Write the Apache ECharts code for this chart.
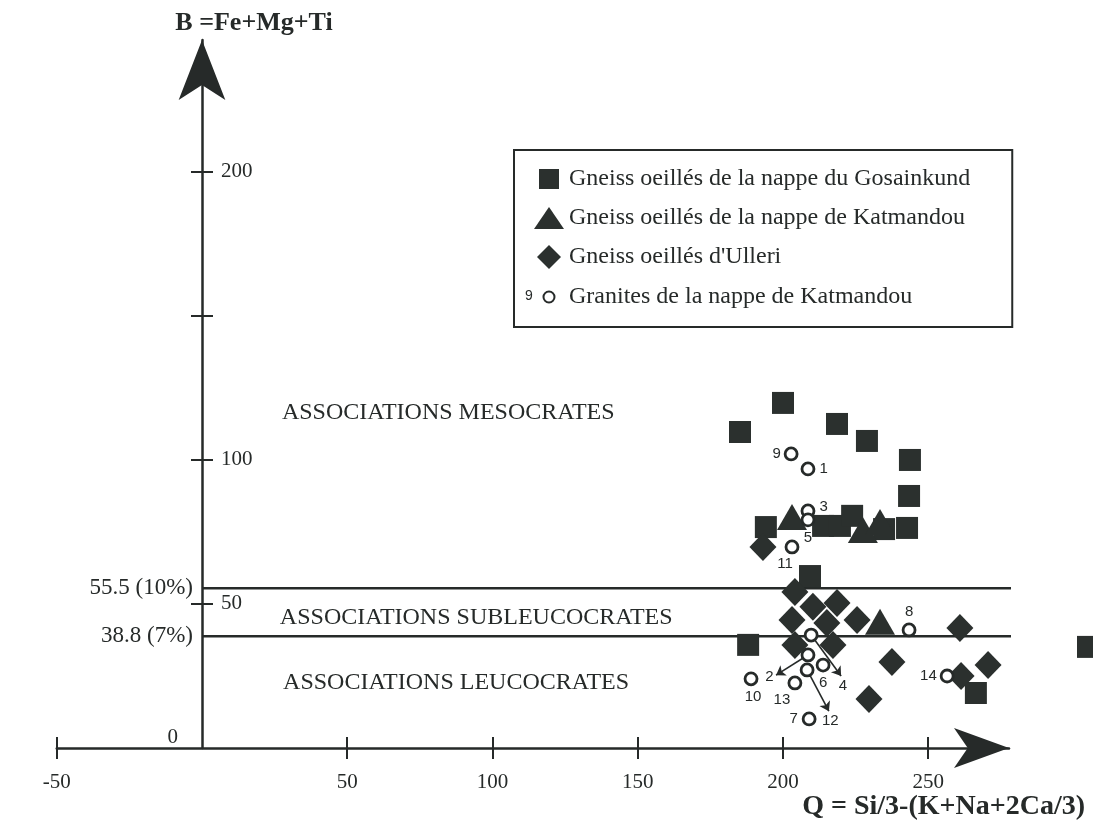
<!DOCTYPE html>
<html>
<head>
<meta charset="utf-8">
<script src="https://cdn.jsdelivr.net/npm/echarts@6/dist/echarts.min.js"></script>
<style>html,body{margin:0;padding:0;background:#fff}#c{width:1093px;height:825px}</style>
</head>
<body>
<div id="c"></div>
<script>
// ---------- DATA ----------
const X_MIN = -50, X_MAX = 277.8, X_INTERVAL = 50;
const Y_MIN = 0, Y_MAX = 245.8, Y_INTERVAL = 50;
const xTickValues = [-50, 50, 100, 150, 200, 250];
const xLabelValues = [-50, 50, 100, 150, 200, 250];
const yTickValues = [50, 100, 150, 200];
const yLabelValues = [50, 100, 200];
const yOriginLabel = [0];

const seriesNames = [
  'Gneiss oeillés de la nappe du Gosainkund',
  'Gneiss oeillés de la nappe de Katmandou',
  "Gneiss oeillés d'Ulleri",
  'Granites de la nappe de Katmandou'
];

const gosainkund = [
  [185.2,109.7],[200.0,119.8],[218.6,112.5],[228.9,106.6],[243.7,100.0],[243.4,87.5],
  [194.1,76.7],[213.8,77.1],[219.6,77.1],[223.8,80.6],[234.8,76.0],[242.7,76.4],
  [209.3,59.7],[188.0,35.8],[266.4,19.1],[305.0,35.1]
];
const katmandouGneiss = [[203.1,80.2],[227.5,75.7],[233.4,78.5],[233.4,43.8]];
const ulleri = [
  [193.1,69.8],[204.1,54.2],[210.3,49.0],[218.6,50.3],[203.1,44.4],[215.1,43.4],
  [204.1,35.8],[217.2,35.8],[225.5,44.4],[237.5,29.9],[229.6,17.0],[260.9,41.7],
  [270.6,28.8],[261.3,25.0]
];
const graniteIds = ['1','2','3','4','5','6','7','8','9','10','11','12','13','14'];
const granites = [
  [208.6,96.9],[208.6,32.3],[208.6,82.3],[209.7,39.2],[208.6,79.2],[213.8,28.8],
  [209.0,10.1],[243.4,41.0],[202.8,102.1],[189.0,24.0],[203.1,69.8],[208.3,27.1],
  [204.1,22.6],[256.5,25.0]
];
// arrows from a granite point to its displaced label
const arrowIds = ['2','4','12'];
const arrowFrom = [[208.6,32.3],[209.7,39.2],[208.3,27.1]];
const arrowTo = [[197.6,25.3],[220.0,25.0],[215.8,12.8]];

const thresholdValues = [55.5, 38.8];
const thresholdLabels = ['55.5 (10%)', '38.8 (7%)'];
const thresholdEndX = 279.2;

const regionNames = ['ASSOCIATIONS MESOCRATES','ASSOCIATIONS SUBLEUCOCRATES','ASSOCIATIONS LEUCOCRATES'];
const regionPos = [[27.5,116.3],[26.8,45.1],[27.9,22.6]];

// ---------- STYLE / LAYOUT ----------
const INK = '#262a29';
const MARK = '#2b302e';
const SERIF = 'Liberation Serif';
const SANS = 'Liberation Sans';
const GRID = {left: 56.75, right: 84, top: 40, bottom: 77};
const CHART_W = 1093;
const gridW = CHART_W - GRID.left - GRID.right;
// place the vertical axis at x = 0 of the horizontal scale
const yAxisOffset = -((0 - X_MIN) / (X_MAX - X_MIN)) * gridW;

const graniteLabelStyle = {
  '1': {position:'right', distance:4},
  '3': {position:'right', distance:4, offset:[0,-4]},
  '5': {position:'bottom', distance:3},
  '6': {position:'bottom', distance:3},
  '7': {position:'left', distance:4},
  '8': {position:'top', distance:3},
  '9': {position:'left', distance:3},
  '10': {position:'bottom', distance:3, offset:[2,0]},
  '11': {position:'bottom', distance:2, offset:[-7,0]},
  '13': {position:'bottom', distance:2, offset:[-13,0]},
  '14': {position:'left', distance:3}
};

const chart = echarts.init(document.getElementById('c'), null, {renderer:'canvas'});

const axisLineStyle = {color: INK, width: 2.5};
const tickStyle = {color: INK, width: 2};

const option = {
  animation: false,
  backgroundColor: '#fff',
  textStyle: {fontFamily: SERIF, color: INK},
  grid: GRID,
  legend: {
    orient: 'vertical',
    left: 514, top: 150,
    padding: [17, 42, 17, 19],
    borderColor: INK, borderWidth: 2,
    itemWidth: 30, itemHeight: 24, itemGap: 15,
    selectedMode: false,
    textStyle: {fontFamily: SERIF, fontSize: 24, color: INK},
    data: [
      {name: seriesNames[0], icon: 'path://M0,0M30,24M5,2H25V22H5Z'},
      {name: seriesNames[1], icon: 'path://M0,0M30,24M15,0L32,25H-2Z'},
      {name: seriesNames[2], icon: 'path://M0,0M30,24M15,-1L28,12L15,25L2,12Z'},
      {name: seriesNames[3], icon: 'path://M0,0M30,24M15,6.5A5.5,5.5,0,1,1,14.99,6.5Z'}
    ]
  },
  graphic: [
    {type:'text', left: 525, top: 289, style:{text:'9', fontFamily: SANS, fontSize: 14, fill: INK}}
  ],
  xAxis: [
    {
      type: 'value', min: X_MIN, max: X_MAX, interval: X_INTERVAL, position: 'bottom',
      axisLine: {onZero: false, lineStyle: axisLineStyle, symbol: ['none','arrow'], symbolSize: [30, 55]},
      axisTick: {show: true, inside: false, length: 11, lineStyle: tickStyle, customValues: xTickValues},
      axisLabel: {margin: 24, fontSize: 21, color: INK, fontFamily: SERIF, customValues: xLabelValues},
      splitLine: {show: false},
      name: 'Q = Si/3-(K+Na+2Ca/3)', nameLocation: 'end', nameGap: 76,
      nameTextStyle: {fontFamily: SERIF, fontSize: 28, fontWeight: 'bold', color: INK,
        align: 'right', verticalAlign: 'top', padding: [45, 0, 0, 0]}
    },
    {
      type: 'value', min: X_MIN, max: X_MAX, interval: X_INTERVAL, position: 'bottom',
      axisLine: {show: false, onZero: false},
      axisTick: {show: true, inside: true, length: 11, lineStyle: tickStyle, customValues: xTickValues},
      axisLabel: {show: false}, splitLine: {show: false}
    }
  ],
  yAxis: [
    {
      type: 'value', min: Y_MIN, max: Y_MAX, interval: Y_INTERVAL, position: 'left', offset: yAxisOffset,
      axisLine: {onZero: false, lineStyle: axisLineStyle, symbol: ['none','arrow'], symbolSize: [35, 60]},
      axisTick: {show: true, inside: true, length: 11, lineStyle: tickStyle, customValues: yTickValues},
      axisLabel: {inside: true, margin: 19, fontSize: 21, color: INK, fontFamily: SERIF, customValues: yLabelValues},
      splitLine: {show: false},
      name: 'B =Fe+Mg+Ti', nameLocation: 'end', nameGap: 4,
      nameTextStyle: {fontFamily: SERIF, fontSize: 26, fontWeight: 'bold', color: INK,
        align: 'center', verticalAlign: 'bottom', padding: [0, 0, 0, 104]}
    },
    {
      type: 'value', min: Y_MIN, max: Y_MAX, interval: Y_INTERVAL, position: 'left', offset: yAxisOffset,
      axisLine: {show: false, onZero: false},
      axisTick: {show: true, inside: false, length: 11, lineStyle: tickStyle, customValues: yTickValues},
      axisLabel: {margin: 24, fontSize: 21, color: INK, fontFamily: SERIF, verticalAlign: 'bottom', customValues: yOriginLabel},
      splitLine: {show: false}
    }
  ],
  series: [
    // threshold lines
    ...thresholdValues.map(v => ({
      type: 'line', name: 'threshold', xAxisIndex: 0, yAxisIndex: 0, clip: false, silent: true,
      symbol: 'none', lineStyle: {color: INK, width: 2.5}, z: 1,
      data: [[0, v], [thresholdEndX, v]]
    })),
    // threshold labels
    {
      type: 'scatter', name: 'thresholdLabels', xAxisIndex: 0, yAxisIndex: 0, symbolSize: 0, silent: true,
      itemStyle: {opacity: 1},
      label: {show: true, position: 'left', distance: 9, fontFamily: SERIF, fontSize: 23, color: INK,
        formatter: p => thresholdLabels[p.dataIndex]},
      data: thresholdValues.map(v => [0, v])
    },
    // region labels
    {
      type: 'scatter', name: 'regions', xAxisIndex: 0, yAxisIndex: 0, symbolSize: 0, silent: true,
      itemStyle: {opacity: 1},
      label: {show: true, position: 'right', distance: 0, fontFamily: SERIF, fontSize: 24, color: INK,
        formatter: p => regionNames[p.dataIndex]},
      data: regionPos
    },
    // arrows for displaced labels
    {
      type: 'lines', name: 'arrows', coordinateSystem: 'cartesian2d', xAxisIndex: 0, yAxisIndex: 0,
      silent: true, z: 3,
      symbol: ['none', 'arrow'], symbolSize: 9,
      lineStyle: {color: INK, width: 1.6, opacity: 1, curveness: 0},
      label: {show: true, position: 'end', distance: 3, fontFamily: SANS, fontSize: 15, color: INK,
        formatter: p => arrowIds[p.dataIndex]},
      data: arrowIds.map((id, i) => ({coords: [arrowFrom[i], arrowTo[i]]}))
    },
    {
      type: 'scatter', name: seriesNames[0], xAxisIndex: 0, yAxisIndex: 0, clip: false,
      symbol: 'rect', symbolSize: 22, itemStyle: {color: MARK, opacity: 1}, z: 4,
      data: gosainkund
    },
    {
      type: 'scatter', name: seriesNames[1], xAxisIndex: 0, yAxisIndex: 0, clip: false,
      symbol: 'triangle', symbolSize: [30, 26], itemStyle: {color: MARK, opacity: 1}, z: 4,
      data: katmandouGneiss
    },
    {
      type: 'scatter', name: seriesNames[2], xAxisIndex: 0, yAxisIndex: 0, clip: false,
      symbol: 'diamond', symbolSize: [27, 28], itemStyle: {color: MARK, opacity: 1}, z: 4,
      data: ulleri
    },
    {
      type: 'scatter', name: seriesNames[3], xAxisIndex: 0, yAxisIndex: 0, clip: false,
      symbol: 'circle', symbolSize: 12,
      itemStyle: {color: '#fff', borderColor: INK, borderWidth: 2.8, opacity: 1}, z: 5,
      label: {show: false, fontFamily: SANS, fontSize: 15, color: INK, formatter: p => graniteIds[p.dataIndex]},
      data: granites.map((g, i) => {
        const st = graniteLabelStyle[graniteIds[i]];
        return st ? {value: g, label: Object.assign({show: true}, st)} : {value: g};
      })
    }
  ]
};
chart.setOption(option);
</script>
</body>
</html>
